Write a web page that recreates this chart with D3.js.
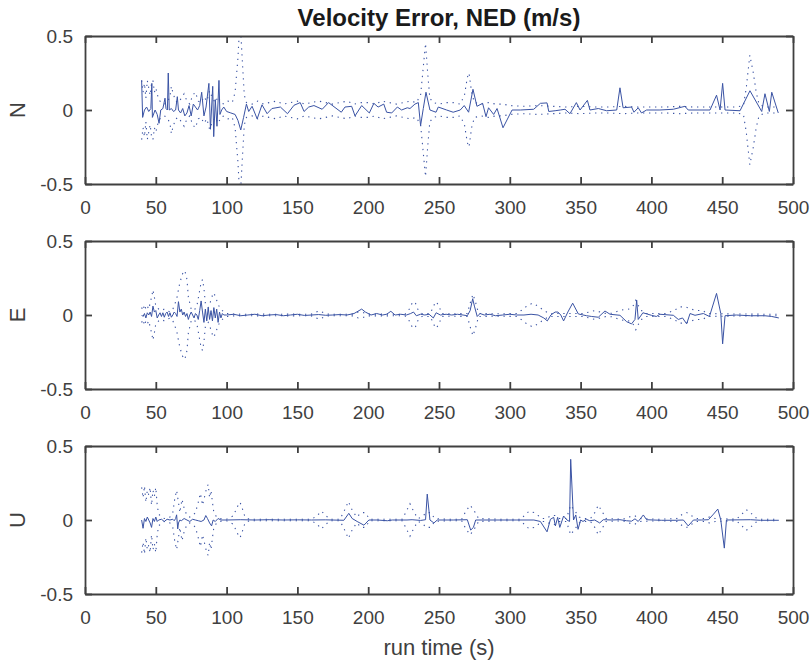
<!DOCTYPE html>
<html>
<head>
<meta charset="utf-8">
<script src="https://cdn.jsdelivr.net/npm/d3@7"></script>
<style>
  body { margin: 0; background: #fff; }
  text { font-family: "Liberation Sans", Arial, Helvetica, sans-serif; fill: #404040; }
</style>
</head>
<body>
<svg id="chart" width="811" height="664"></svg>
<script>
// Données : [temps (s), valeur (m/s)]
const xTickValues = [0, 50, 100, 150, 200, 250, 300, 350, 400, 450, 500];
const yTickValues = [-0.5, 0, 0.5];
const panelNames = ['N', 'E', 'U'];

// Erreur Nord (trait plein)
const nErr = [[40,0.20],[40.7,-0.05],[42,0.0],[43.5,0.02],[45,-0.01],[46.5,0.01],[47.2,0.18],[47.6,-0.05],[49.5,0.0],[51,-0.03],[52.3,-0.09],[53.5,0.0],[55,0.01],[56.5,0.08],[57.2,0.01],[58.2,0.0],[58.8,0.25],[59.5,0.0],[61,0.01],[62.5,-0.01],[64,0.0],[65.2,0.09],[66,0.0],[67.5,-0.02],[69,0.01],[70.5,-0.04],[72,-0.02],[73.5,0.03],[75,-0.04],[76.5,0.04],[78,0.02],[79.5,0.0],[81,0.03],[82.4,0.12],[84,-0.04],[85.5,0.02],[87.5,0.18],[88.6,-0.13],[90.2,0.16],[90.9,-0.18],[92,0.07],[93.2,-0.11],[94.6,0.20],[95.3,-0.03],[96.5,0.0],[98,0.02],[100,-0.01],[103,-0.02],[106,-0.03],[108,-0.07],[110,-0.135],[112,-0.05],[114,0.04],[115.6,-0.01],[118,0.025],[121.6,-0.06],[125,0.035],[128.6,-0.025],[132,0.01],[138,0.02],[143,-0.025],[147.6,0.032],[152,0.05],[154.7,-0.01],[158,0.02],[161.7,0.03],[167.5,0.005],[172,0.05],[181,-0.015],[183.6,0.02],[188.3,0.025],[190.7,-0.04],[195.4,0.03],[200.8,-0.02],[204,0.045],[207,0.02],[211,0.04],[213,-0.015],[216.6,-0.02],[220.6,0.02],[223.6,0.0],[227.6,0.015],[229.5,0.01],[233,0.04],[235.4,0.05],[237,-0.105],[238.9,0.01],[240.8,0.12],[243.6,0.0],[247.9,-0.015],[249.5,0.02],[255.4,0.0],[260,-0.015],[265,0.0],[267.8,0.03],[270.9,-0.015],[274,0.14],[276.8,0.025],[280.8,0.045],[283.2,-0.045],[285,0.015],[288.6,-0.03],[291,0.01],[295.2,-0.12],[301.6,0.0],[307.5,0.0],[316.9,0.005],[321.6,0.045],[326.3,0.048],[327.5,-0.01],[332,-0.005],[335.6,0.0],[339,0.005],[342.5,-0.025],[347,0.05],[349.6,0.0],[354.8,0.065],[356.6,0.0],[362.5,0.01],[368.4,-0.005],[375.5,0.0],[377.8,0.15],[380,0.015],[386,0.02],[387.7,-0.015],[390.7,0.015],[393,-0.02],[396.6,0.0],[406,0.0],[415.5,0.005],[423.7,0.025],[426,0.0],[434.3,0.0],[441.4,0.0],[446,0.10],[448.5,0.0],[450.3,0.18],[452,0.0],[462.6,-0.005],[469.6,0.13],[477.9,-0.01],[480.2,0.11],[483.3,-0.01],[485,0.12],[489.6,-0.02]];

// Enveloppe Nord (pointillés, +/-)
const nSig = [[40,0.20],[41,0.12],[42,0.18],[43,0.08],[44,0.20],[45,0.15],[46,0.10],[47,0.18],[48,0.20],[49,0.12],[50,0.15],[52,0.07],[54,0.05],[56,0.04],[58,0.05],[60,0.09],[61,0.16],[62,0.12],[64,0.06],[66,0.05],[68,0.08],[70,0.11],[72,0.06],[74,0.04],[76,0.10],[78,0.12],[80,0.06],[82,0.05],[84,0.09],[86,0.06],[88,0.13],[90,0.08],[92,0.05],[94,0.09],[96,0.05],[98,0.04],[101,0.06],[104,0.05],[106,0.12],[108,0.35],[109.5,0.62],[111,0.35],[112.5,0.10],[114,0.05],[118,0.04],[122,0.06],[126,0.04],[130,0.05],[135,0.06],[140,0.04],[145,0.05],[150,0.06],[155,0.04],[160,0.05],[165,0.06],[170,0.05],[175,0.04],[180,0.05],[185,0.06],[190,0.04],[195,0.05],[200,0.05],[205,0.04],[210,0.06],[215,0.05],[220,0.04],[225,0.05],[230,0.06],[234,0.05],[237,0.10],[239,0.30],[240.5,0.45],[242,0.25],[243.5,0.08],[246,0.05],[250,0.04],[255,0.05],[260,0.05],[265,0.04],[268,0.10],[270,0.22],[271.2,0.25],[273,0.12],[275,0.05],[280,0.04],[285,0.05],[290,0.04],[295,0.04],[300,0.03],[310,0.025],[320,0.03],[330,0.025],[340,0.02],[350,0.025],[360,0.02],[370,0.02],[380,0.025],[390,0.02],[400,0.02],[410,0.02],[420,0.025],[430,0.02],[440,0.02],[450,0.02],[460,0.02],[465,0.03],[467,0.15],[469.5,0.37],[472,0.25],[474,0.12],[476,0.04],[480,0.02],[490,0.02]];

// Erreur Est
const eErr = [[40,0.0],[41,-0.01],[42,0.01],[43,-0.02],[44,0.015],[45,0.0],[46,0.02],[47,-0.01],[48,0.06],[49,0.02],[50,0.03],[51,-0.02],[52,0.0],[53,0.015],[54,-0.01],[55,0.015],[56,-0.015],[57,0.01],[58,0.02],[59,-0.01],[60,0.015],[61,-0.015],[62,0.0],[63,0.02],[64,0.01],[65,-0.01],[66,0.09],[67,0.02],[68,0.04],[69,0.0],[70,0.02],[71,-0.01],[72,0.01],[73,-0.03],[74,0.0],[75,0.02],[76,0.0],[77,-0.02],[78,0.01],[79,0.0],[80,-0.03],[81,0.03],[82,0.095],[83,0.02],[84,-0.05],[85,0.04],[86,-0.04],[87,0.05],[88,-0.03],[89,0.03],[90,-0.04],[91,0.05],[92,-0.02],[93,0.04],[94,-0.05],[95,0.02],[96,-0.02],[97,0.01],[98,0.0],[100,0.0],[105,0.005],[110,-0.005],[115,0.0],[120,0.005],[125,-0.005],[130,0.0],[135,0.003],[140,-0.005],[145,0.0],[150,0.005],[155,-0.003],[160,0.0],[165,0.003],[170,-0.002],[175,0.0],[180,0.003],[185,0.0],[190,0.01],[195.4,0.04],[198,0.02],[202,0.0],[206,0.01],[210,0.0],[213,0.005],[216,0.025],[219,0.0],[223,0.005],[227,0.0],[230,0.01],[232,0.02],[234,-0.005],[237,0.005],[240,0.0],[243,0.005],[246,-0.02],[248,0.015],[251,0.0],[255,0.005],[259,0.0],[263,0.005],[267,0.0],[270,-0.005],[272,0.03],[273.8,0.11],[275,0.06],[277,-0.01],[279,0.01],[282,0.0],[286,0.005],[290,-0.005],[295,0.0],[300,0.005],[305,0.0],[310,0.0],[315,0.005],[320,0.0],[324,-0.02],[326.5,-0.04],[329,0.0],[332,0.02],[334,0.02],[336,0.0],[338,-0.04],[341,0.02],[344.4,0.08],[348.4,0.007],[354.3,-0.005],[357.8,-0.01],[362.5,-0.015],[367.2,0.027],[370.8,0.005],[377.8,-0.002],[382.5,-0.045],[386,-0.06],[388.4,-0.03],[389.6,0.10],[390.7,-0.03],[394,0.015],[400,-0.002],[403.5,-0.01],[406,0.005],[415.5,-0.002],[419,-0.03],[422,-0.02],[424.9,-0.06],[427.3,0.01],[430.8,-0.002],[436.7,0.01],[441,-0.01],[446,0.146],[449,0.01],[450.3,-0.195],[452,-0.005],[460,0.0],[470,-0.005],[480,-0.005],[485,-0.01],[490,-0.02]];

// Enveloppe Est
const eSig = [[40,0.05],[41,0.03],[42,0.07],[43,0.04],[44,0.06],[45,0.04],[46,0.08],[47,0.12],[48,0.17],[49,0.12],[50,0.06],[52,0.04],[54,0.03],[56,0.04],[58,0.03],[60,0.02],[62,0.04],[63,0.06],[65,0.12],[67,0.22],[69,0.28],[70.5,0.30],[72,0.24],[73,0.12],[75,0.04],[77,0.03],[79,0.06],[80.5,0.14],[82,0.22],[83,0.24],[84,0.18],[85,0.08],[87,0.05],[89,0.10],[90.5,0.15],[92,0.13],[94,0.07],[96,0.04],[98,0.02],[100,0.01],[105,0.006],[115,0.005],[125,0.006],[135,0.005],[145,0.006],[155,0.005],[160,0.006],[163,0.02],[166,0.028],[169,0.012],[172,0.006],[180,0.005],[190,0.006],[193,0.02],[196,0.018],[199,0.006],[210,0.006],[220,0.005],[226,0.006],[229,0.04],[231,0.08],[233,0.09],[235,0.04],[238,0.01],[244,0.01],[246,0.06],[248,0.09],[250,0.06],[252,0.01],[260,0.008],[270,0.01],[272,0.08],[274,0.14],[276,0.08],[278,0.01],[290,0.008],[305,0.01],[308,0.03],[312,0.06],[316,0.08],[320,0.06],[324,0.03],[328,0.01],[340,0.01],[352,0.01],[356,0.02],[360,0.03],[364,0.02],[368,0.01],[372,0.012],[376,0.025],[380,0.035],[384,0.04],[387,0.06],[389,0.10],[391,0.06],[393,0.03],[396,0.01],[410,0.01],[416,0.03],[420,0.055],[424,0.055],[428,0.04],[432,0.03],[436,0.03],[440,0.01],[450,0.008],[470,0.006],[490,0.005]];

// Erreur verticale (U)
const uErr = [[40,0.0],[41,-0.056],[42,0.01],[43,-0.01],[44,0.02],[45,0.0],[46,-0.02],[47,-0.05],[48,0.01],[49,-0.01],[50,0.02],[51,-0.01],[52,0.0],[54,0.005],[56,-0.01],[58,0.005],[60,0.0],[62,0.005],[63,-0.005],[64,0.01],[64.7,0.035],[65.5,-0.06],[66,-0.02],[67,0.0],[68,-0.005],[70,0.01],[72,0.0],[74,-0.01],[76,0.005],[78,0.0],[80,-0.005],[82,-0.01],[84,0.0],[85.3,0.03],[86.5,0.01],[88,-0.02],[89.4,-0.04],[90.5,0.0],[92,-0.01],[94,0.01],[96,0.0],[100,0.0],[110,0.002],[120,0.0],[130,0.002],[140,0.0],[150,0.001],[160,0.0],[170,0.001],[182.8,-0.002],[186.3,0.045],[188.7,0.01],[192.2,-0.01],[197,-0.035],[200.5,0.0],[206.4,0.0],[213.5,-0.005],[217,0.0],[227.4,0.0],[231,0.002],[237,-0.003],[240.5,0.002],[241.7,0.175],[243.6,0.0],[246.4,-0.02],[248.8,0.0],[260,0.0],[270,0.002],[272.4,-0.068],[274.3,-0.05],[275.9,0.0],[290,0.0],[305,0.0],[317,0.0],[321.6,-0.01],[326.3,-0.08],[328.7,0.005],[331,0.018],[332.2,-0.04],[333.8,0.018],[335.3,-0.05],[338,0.027],[340.4,0.0],[342.2,-0.01],[343,0.41],[345,0.0],[346.6,0.034],[348.2,-0.063],[350,0.0],[351.7,-0.01],[354,0.005],[356.5,-0.005],[360,0.0],[363.5,-0.02],[366,0.002],[372,0.0],[377.8,0.002],[382.5,-0.005],[386,-0.008],[388.4,0.008],[390.7,-0.01],[394.3,0.034],[396.6,0.002],[401.4,0.0],[407.3,-0.002],[416.7,-0.002],[422.6,0.0],[426,-0.04],[429.7,0.0],[435.6,0.0],[440.3,0.002],[443.9,0.04],[446.9,0.074],[449,0.0],[451.5,-0.19],[453,0.0],[470,0.002],[477,-0.002],[490,-0.002]];

// Enveloppe verticale (U)
const uSig = [[40,0.22],[41,0.15],[42,0.23],[43,0.12],[44,0.20],[45,0.17],[46,0.22],[47,0.10],[48,0.20],[49,0.16],[50,0.22],[51,0.10],[52,0.04],[54,0.02],[56,0.01],[58,0.01],[60,0.02],[62,0.05],[63.5,0.15],[64.7,0.20],[66,0.12],[67,0.05],[68.5,0.14],[70,0.08],[72,0.03],[74,0.02],[76,0.03],[78,0.05],[80,0.12],[81.5,0.18],[83,0.10],[84.5,0.16],[86,0.22],[87,0.24],[88,0.15],[89,0.20],[90,0.12],[91,0.05],[93,0.02],[95,0.01],[100,0.005],[105,0.03],[107,0.08],[109.5,0.12],[111,0.08],[113,0.02],[116,0.005],[130,0.005],[145,0.005],[160,0.005],[164,0.03],[167,0.06],[170,0.03],[173,0.005],[180,0.005],[183,0.06],[186,0.125],[189,0.06],[192,0.02],[195,0.05],[198,0.05],[201,0.005],[212,0.005],[224,0.005],[227,0.06],[229.5,0.11],[232,0.06],[235,0.01],[238,0.02],[241,0.05],[244,0.05],[247,0.01],[256,0.005],[266,0.005],[269,0.06],[272,0.10],[275,0.06],[278,0.01],[293,0.005],[308,0.005],[311,0.04],[314,0.06],[317,0.05],[320,0.03],[323,0.01],[326,0.01],[329,0.03],[332,0.03],[335,0.01],[340,0.01],[343,0.10],[346,0.06],[349,0.02],[352,0.01],[357,0.01],[360,0.05],[362.5,0.10],[365,0.06],[368,0.01],[380,0.005],[384,0.02],[388,0.03],[392,0.01],[405,0.005],[418,0.01],[422,0.04],[425,0.05],[428,0.03],[432,0.01],[438,0.01],[441,0.02],[445,0.01],[460,0.005],[464,0.04],[467,0.07],[470,0.05],[473,0.02],[476,0.005],[490,0.005]];

// Mise en page
const svg = d3.select('#chart');
const left = 85, right = 793, panelH = 148;
const panelTops = [36, 241, 446];
const axisColor = '#404040';
const lineColor = '#3a53a4';

const x = d3.scaleLinear().domain([0, 500]).range([left, right]);
const y = d3.scaleLinear().domain([-0.5, 0.5]).range([panelH, 0]);

const panels = [
  {name: panelNames[0], err: nErr, sig: nSig},
  {name: panelNames[1], err: eErr, sig: eSig},
  {name: panelNames[2], err: uErr, sig: uSig},
];

function styleAxis(sel) {
  sel.select('.domain').attr('stroke', axisColor).attr('stroke-width', 1.8);
  sel.selectAll('.tick line').attr('stroke', axisColor).attr('stroke-width', 1.8);
  sel.selectAll('.tick text')
    .attr('fill', axisColor)
    .style('font-size', '19px')
    .style('font-family', '"Liberation Sans", Arial, sans-serif');
}

panels.forEach((p, i) => {
  const g = svg.append('g').attr('transform', `translate(0,${panelTops[i]})`);

  // zone de découpe (les pics dépassent +/-0.5)
  svg.append('defs').append('clipPath').attr('id', `clip${i}`)
    .append('rect').attr('x', left).attr('y', 0).attr('width', right - left).attr('height', panelH);

  const data = g.append('g').attr('clip-path', `url(#clip${i})`);
  const line = d3.line().x(d => x(d[0])).y(d => y(d[1]));

  data.append('path')
    .datum(p.sig)
    .attr('d', line)
    .attr('fill', 'none').attr('stroke', lineColor).attr('stroke-width', 1.1)
    .attr('stroke-dasharray', '1.3,4.7');
  data.append('path')
    .datum(p.sig.map(d => [d[0], -d[1]]))
    .attr('d', line)
    .attr('fill', 'none').attr('stroke', lineColor).attr('stroke-width', 1.1)
    .attr('stroke-dasharray', '1.3,4.7');
  data.append('path')
    .datum(p.err)
    .attr('d', line)
    .attr('fill', 'none').attr('stroke', lineColor).attr('stroke-width', 1);

  // axes : ticks vers l'intérieur, des 4 côtés
  g.append('g').attr('transform', `translate(0,${panelH})`)
    .call(d3.axisBottom(x).tickValues(xTickValues).tickSizeInner(-7).tickSizeOuter(0).tickPadding(17))
    .call(styleAxis);
  g.append('g')
    .call(d3.axisTop(x).tickValues(xTickValues).tickSizeInner(-7).tickSizeOuter(0).tickFormat(''))
    .call(styleAxis);
  g.append('g').attr('transform', `translate(${left},0)`)
    .call(d3.axisLeft(y).tickValues(yTickValues).tickSizeInner(-7).tickSizeOuter(0).tickPadding(12)
      .tickFormat(d => String(d)))
    .call(styleAxis);
  g.append('g').attr('transform', `translate(${right},0)`)
    .call(d3.axisRight(y).tickValues(yTickValues).tickSizeInner(-7).tickSizeOuter(0).tickFormat(''))
    .call(styleAxis);

  svg.append('text')
    .attr('transform', `translate(25,${panelTops[i] + panelH / 2}) rotate(-90)`)
    .attr('text-anchor', 'middle')
    .style('font-size', '22px')
    .text(p.name);
});

// Titre et légende de l'axe x
svg.append('text')
  .attr('x', (left + right) / 2).attr('y', 26)
  .attr('text-anchor', 'middle')
  .style('font-size', '24px').style('font-weight', 'bold')
  .style('fill', '#1a1a1a')
  .text('Velocity Error, NED (m/s)');

svg.append('text')
  .attr('x', (left + right) / 2).attr('y', 655)
  .attr('text-anchor', 'middle')
  .style('font-size', '22px')
  .text('run time (s)');
</script>
</body>
</html>
